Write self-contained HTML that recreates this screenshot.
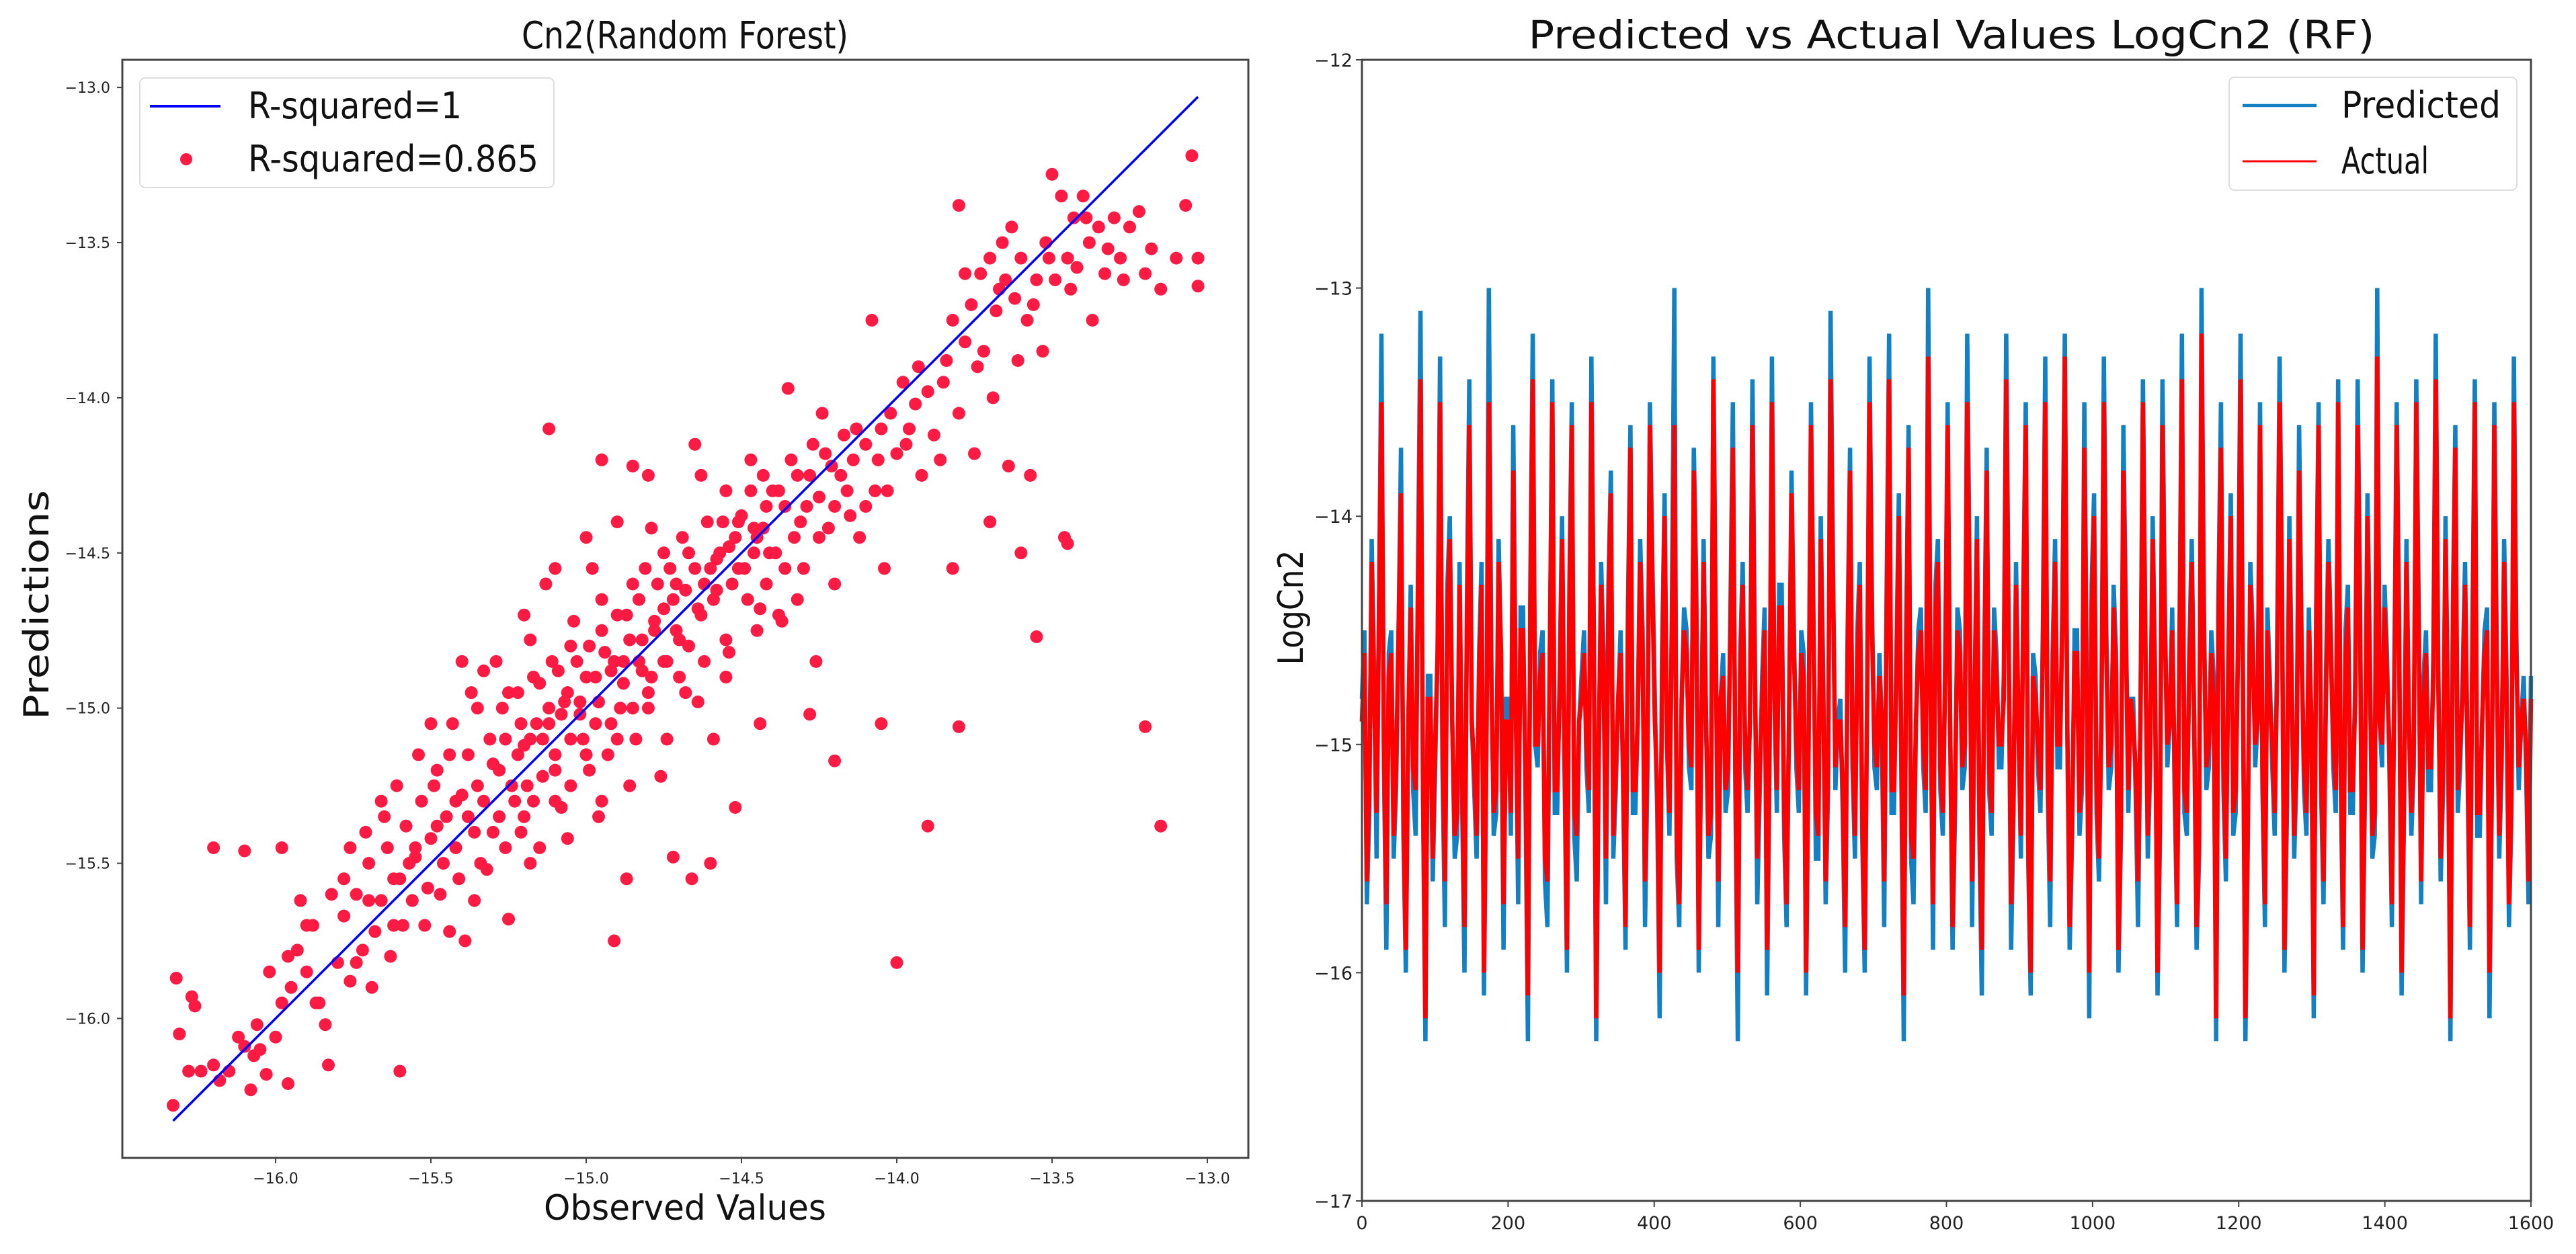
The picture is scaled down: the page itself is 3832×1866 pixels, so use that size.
<!DOCTYPE html>
<html><head><meta charset="utf-8"><style>
html,body{margin:0;padding:0;background:#fff;}
svg{display:block;font-family:"DejaVu Sans","Liberation Sans",sans-serif;}
</style></head><body>
<svg id="fig" width="3832" height="1866" viewBox="0 0 3832 1866" xmlns="http://www.w3.org/2000/svg">
<rect width="3832" height="1866" fill="#fff"/>
<g id="left"></g>
<g id="right"></g>
<text x="1019" y="72" font-size="56" text-anchor="middle" textLength="486" lengthAdjust="spacingAndGlyphs" fill="#111">Cn2(Random Forest)</text>
<text x="1019" y="1815" font-size="52" text-anchor="middle" textLength="420" lengthAdjust="spacingAndGlyphs" fill="#111">Observed Values</text>
<text x="0" y="0" font-size="52" text-anchor="middle" textLength="342" lengthAdjust="spacingAndGlyphs" fill="#111" transform="translate(72,900) rotate(-90)">Predictions</text>
<text x="2903" y="72" font-size="58" text-anchor="middle" textLength="1259" lengthAdjust="spacingAndGlyphs" fill="#111">Predicted vs Actual Values LogCn2 (RF)</text>
<text x="0" y="0" font-size="52" text-anchor="middle" textLength="171" lengthAdjust="spacingAndGlyphs" fill="#111" transform="translate(1938,904) rotate(-90)">LogCn2</text>
</svg>
<script>
const scatterPoints = [[-16.33,-16.28],[-16.32,-15.87],[-16.31,-16.05],[-16.28,-16.17],[-16.27,-15.93],[-16.26,-15.96],[-16.24,-16.17],[-16.2,-16.15],[-16.18,-16.2],[-16.15,-16.17],[-16.12,-16.06],[-16.1,-16.09],[-16.08,-16.23],[-16.07,-16.12],[-16.05,-16.1],[-16.03,-16.18],[-16.0,-16.06],[-15.98,-15.95],[-15.96,-16.21],[-15.95,-15.9],[-15.93,-15.78],[-15.9,-15.85],[-15.88,-15.7],[-15.86,-15.95],[-15.84,-16.02],[-15.83,-16.15],[-15.8,-15.82],[-15.78,-15.67],[-15.76,-15.88],[-15.74,-15.6],[-15.72,-15.78],[-15.7,-15.5],[-15.68,-15.72],[-15.66,-15.62],[-15.64,-15.45],[-15.62,-15.7],[-15.6,-15.55],[-15.58,-15.38],[-15.56,-15.62],[-15.55,-15.48],[-15.53,-15.3],[-15.51,-15.58],[-15.5,-15.42],[-15.48,-15.2],[-15.46,-15.5],[-15.45,-15.35],[-15.43,-15.05],[-15.42,-15.45],[-15.4,-15.28],[-15.39,-15.75],[-15.38,-15.15],[-15.36,-15.4],[-15.35,-15.0],[-15.33,-15.3],[-15.32,-15.52],[-15.3,-15.18],[-15.29,-14.85],[-15.28,-15.35],[-15.26,-15.1],[-15.25,-15.68],[-15.24,-15.25],[-15.22,-14.95],[-15.21,-15.4],[-15.2,-15.12],[-15.18,-14.78],[-15.17,-15.3],[-15.16,-15.05],[-15.14,-15.22],[-15.13,-14.6],[-15.12,-15.0],[-15.1,-15.15],[-15.09,-14.88],[-15.08,-15.32],[-15.06,-14.95],[-15.05,-15.1],[-15.04,-14.72],[-15.02,-15.02],[-15.0,-14.9],[-14.99,-15.2],[-14.98,-14.55],[-14.96,-14.98],[-14.95,-15.3],[-14.94,-14.82],[-14.92,-15.05],[-14.91,-15.75],[-14.9,-14.7],[-14.88,-14.92],[-14.87,-15.55],[-14.86,-14.78],[-14.84,-15.1],[-14.83,-14.65],[-14.82,-14.88],[-14.8,-15.0],[-14.79,-14.42],[-14.78,-14.75],[-14.76,-15.22],[-14.75,-14.68],[-14.74,-14.85],[-14.72,-15.48],[-14.71,-14.6],[-14.7,-14.78],[-14.68,-14.95],[-14.67,-14.5],[-14.66,-15.55],[-14.64,-14.68],[-14.63,-14.25],[-14.62,-14.85],[-14.6,-14.55],[-14.59,-15.1],[-14.58,-14.62],[-14.56,-14.4],[-14.55,-14.78],[-14.54,-14.48],[-14.52,-15.32],[-14.51,-14.55],[-14.5,-14.38],[-14.48,-14.65],[-14.47,-14.2],[-14.46,-14.5],[-14.44,-15.05],[-14.43,-14.42],[-14.42,-14.6],[-14.4,-14.3],[-14.39,-14.5],[-14.37,-14.72],[-14.36,-14.35],[-14.35,-13.97],[-14.33,-14.45],[-14.32,-14.25],[-14.3,-14.55],[-14.29,-14.35],[-14.27,-14.15],[-14.26,-14.85],[-14.25,-14.32],[-14.24,-14.05],[-14.22,-14.42],[-14.21,-14.22],[-14.2,-14.6],[-14.18,-14.25],[-14.17,-14.12],[-14.15,-14.38],[-14.14,-14.2],[-14.12,-14.45],[-14.1,-14.15],[-14.08,-13.75],[-14.07,-14.3],[-14.05,-14.1],[-14.04,-14.55],[-14.02,-14.05],[-14.0,-14.18],[-13.98,-13.95],[-13.96,-14.1],[-13.94,-14.02],[-13.92,-14.25],[-13.9,-13.98],[-13.88,-14.12],[-13.86,-14.2],[-13.84,-13.88],[-13.82,-13.75],[-13.8,-14.05],[-13.8,-13.38],[-13.78,-13.82],[-13.76,-13.7],[-13.75,-14.18],[-13.73,-13.6],[-13.72,-13.85],[-13.7,-13.55],[-13.69,-14.0],[-13.68,-13.72],[-13.66,-13.5],[-13.65,-13.62],[-13.64,-14.22],[-13.62,-13.68],[-13.61,-13.88],[-13.6,-13.55],[-13.58,-13.75],[-13.57,-14.25],[-13.55,-13.62],[-13.53,-13.85],[-13.52,-13.5],[-13.5,-13.28],[-13.49,-13.62],[-13.47,-13.35],[-13.46,-14.45],[-13.45,-13.55],[-13.43,-13.42],[-13.42,-13.58],[-13.4,-13.35],[-13.38,-13.5],[-13.37,-13.75],[-13.35,-13.45],[-13.33,-13.6],[-13.3,-13.42],[-13.28,-13.55],[-13.25,-13.45],[-13.22,-13.4],[-13.2,-13.6],[-13.2,-15.06],[-13.18,-13.52],[-13.15,-15.38],[-13.15,-13.65],[-13.1,-13.55],[-13.07,-13.38],[-13.05,-13.22],[-13.03,-13.55],[-13.03,-13.64],
[-16.2,-15.45],[-16.1,-15.46],[-15.98,-15.45],[-15.6,-16.17],[-13.9,-15.38],[-14.0,-15.82],[-13.55,-14.77],[-13.8,-15.06],[-14.05,-15.05],[-14.2,-15.17],[-15.12,-14.1],[-14.95,-14.2],[-14.85,-14.22],[-13.7,-14.4],[-13.6,-14.5],[-13.45,-14.47],[-14.28,-15.02],[-14.6,-15.5],[-13.82,-14.55],
[-15.28,-15.2],[-15.22,-15.15],[-15.18,-15.1],[-15.12,-15.05],[-15.08,-15.02],[-15.02,-14.98],[-14.97,-14.9],[-14.92,-14.88],[-14.88,-14.85],[-14.82,-14.78],[-14.78,-14.72],[-14.72,-14.65],[-14.68,-14.62],[-14.62,-14.6],[-14.58,-14.52],[-14.52,-14.45],[-14.46,-14.42],[-14.42,-14.35],[-15.35,-15.25],[-15.42,-15.3],[-15.48,-15.38],[-15.55,-15.45],[-15.62,-15.55],[-15.7,-15.62],[-15.25,-14.95],[-15.15,-14.92],[-15.05,-14.8],[-14.95,-14.75],[-14.85,-14.6],[-14.75,-14.5],[-15.2,-15.35],[-15.1,-15.3],[-15.0,-15.15],[-14.9,-15.1],[-14.8,-14.95],[-14.7,-14.9],
[-15.78,-15.55],[-15.74,-15.82],[-15.71,-15.4],[-15.69,-15.9],[-15.65,-15.35],[-15.63,-15.8],[-15.61,-15.25],[-15.59,-15.7],[-15.57,-15.5],[-15.54,-15.15],[-15.52,-15.7],[-15.49,-15.25],[-15.47,-15.6],[-15.44,-15.15],[-15.41,-15.55],[-15.38,-15.35],[-15.37,-14.95],[-15.34,-15.5],[-15.31,-15.1],[-15.3,-15.4],[-15.27,-15.0],[-15.26,-15.45],[-15.23,-15.3],[-15.21,-15.05],[-15.19,-15.25],[-15.17,-14.9],[-15.15,-15.45],[-15.14,-15.1],[-15.11,-14.85],[-15.1,-15.2],[-15.07,-14.98],[-15.05,-15.25],[-15.03,-14.85],[-15.01,-15.1],[-14.99,-14.8],[-14.97,-15.05],[-14.95,-14.65],[-14.93,-15.15],[-14.91,-14.85],[-14.89,-15.0],[-14.87,-14.7],[-14.85,-15.0],[-14.83,-14.85],[-14.81,-14.55],[-14.79,-14.9],[-14.77,-14.6],[-14.75,-14.85],[-14.73,-14.55],[-14.71,-14.75],[-14.69,-14.45],[-14.67,-14.8],[-14.65,-14.55],[-14.63,-14.7],[-14.61,-14.4],[-14.59,-14.65],[-14.57,-14.5],[-14.55,-14.3],[-14.53,-14.6],[-14.51,-14.4],[-14.49,-14.55],[-14.47,-14.3],[-14.45,-14.45],[-14.43,-14.25],[-14.41,-14.5],[-14.38,-14.3],[-14.36,-14.55],[-14.34,-14.2],[-14.31,-14.4],[-14.28,-14.25],[-14.25,-14.45],[-14.23,-14.18],[-14.2,-14.35],[-14.16,-14.3],[-14.13,-14.1],[-14.1,-14.35],[-14.06,-14.2],[-14.03,-14.3],[-13.97,-14.15],[-13.93,-13.9],[-13.85,-13.95],[-13.78,-13.6],[-13.74,-13.9],[-13.67,-13.65],[-13.63,-13.45],[-13.56,-13.7],[-13.51,-13.55],[-13.44,-13.65],[-13.39,-13.42],[-13.32,-13.52],[-13.27,-13.62],[-15.9,-15.7],[-15.87,-15.95],[-15.92,-15.62],[-15.96,-15.8],[-16.02,-15.85],[-16.06,-16.02],[-15.82,-15.6],[-15.76,-15.45],[-15.66,-15.3],[-15.5,-15.05],[-15.4,-14.85],[-15.33,-14.88],[-15.2,-14.7],[-15.1,-14.55],[-15.0,-14.45],[-14.9,-14.4],[-14.8,-14.25],[-14.65,-14.15],[-14.55,-14.9],[-14.45,-14.75],[-14.38,-14.7],[-14.32,-14.65],[-15.44,-15.72],[-15.36,-15.62],[-15.18,-15.5],[-15.06,-15.42],[-14.96,-15.35],[-14.86,-15.25],[-14.74,-15.1],[-14.64,-14.98],[-14.54,-14.82],[-14.44,-14.68]];
const perfectLine = [-16.33, -13.03];
const scatterXTicks = [-16.0,-15.5,-15.0,-14.5,-14.0,-13.5,-13.0];
const scatterYTicks = [-13.0,-13.5,-14.0,-14.5,-15.0,-15.5,-16.0];

const actualPeaks = [
-14.9,-15.6,-14.2,-15.3,-13.5,-15.7,-14.6,-15.1,-13.9,-15.9,-14.4,-15.2,-13.4,-16.2,-14.8,-15.0,-13.5,-15.6,-14.1,-15.4,
-14.3,-15.8,-13.6,-15.1,-14.7,-16.0,-13.5,-15.3,-14.2,-15.7,-14.9,-13.8,-15.5,-14.5,-16.1,-13.4,-15.0,-14.6,-15.6,-13.5,
-15.2,-14.1,-15.9,-13.6,-15.4,-14.8,-15.0,-13.5,-16.2,-14.3,-15.5,-13.9,-15.1,-14.6,-15.8,-13.7,-15.2,-14.2,-15.6,-13.6,
-14.9,-16.0,-14.0,-15.3,-13.6,-15.7,-14.5,-15.0,-13.8,-15.9,-14.2,-15.4,-13.4,-15.6,-14.7,-15.1,-13.7,-16.0,-14.3,-15.2,
-13.6,-15.5,-14.8,-15.9,-13.5,-15.2,-14.4,-15.7,-13.9,-15.0,-14.6,-16.0,-13.6,-15.3,-14.1,-15.6,-13.4,-15.1,-14.9,-15.8,
-13.8,-15.4,-14.3,-15.9,-13.5,-15.0,-14.7,-15.6,-13.4,-15.2,-14.0,-16.1,-13.7,-15.5,-14.6,-15.0,-13.3,-15.7,-14.2,-15.3,
-13.6,-15.8,-14.5,-15.1,-13.5,-15.6,-14.1,-15.9,-13.8,-15.3,-14.7,-15.0,-13.4,-15.7,-14.3,-15.4,-13.6,-16.0,-14.8,-15.2,
-13.5,-15.6,-14.2,-15.0,-13.3,-15.8,-14.6,-15.3,-13.7,-16.0,-14.0,-15.5,-13.5,-15.1,-14.4,-15.9,-13.8,-15.2,-14.9,-15.6,
-13.5,-15.4,-14.1,-16.0,-13.6,-15.0,-14.5,-15.7,-13.4,-15.3,-14.2,-15.8,-13.2,-15.1,-14.6,-16.2,-13.7,-15.5,-14.0,-15.2,
-13.4,-16.2,-14.3,-15.0,-13.6,-15.7,-14.8,-15.3,-13.5,-15.9,-14.1,-15.4,-13.8,-15.1,-14.5,-16.1,-13.6,-15.6,-14.2,-15.0,
-13.5,-15.8,-14.4,-15.2,-13.6,-15.9,-14.0,-15.4,-13.3,-15.0,-14.7,-15.7,-13.6,-16.0,-14.2,-15.3,-13.5,-15.6,-14.6,-15.1,
-13.4,-15.5,-14.1,-16.2,-13.7,-15.0,-14.3,-15.8,-13.5,-15.3,-14.6,-16.0,-13.6,-15.4,-14.2,-15.7,-13.5,-15.1,-14.8,-15.6];
const actualMids = [
-14.6,-15.2,-14.8,-14.4,-15.0,-14.7,-15.4,-14.5,-15.3,-14.9,-15.1,-14.3,-15.2,-14.8,-15.5,-14.6,-15.0,-14.4,-14.9,-15.3,
-15.1,-14.5,-14.9,-15.4,-14.3,-15.0,-14.7,-15.2,-14.6,-14.9,-15.3,-14.8,-14.5,-15.1,-14.4,-15.0,-14.7,-15.5,-14.6,-15.2,
-14.8,-15.0,-14.4,-15.3,-14.9,-14.6,-15.2,-14.5,-15.0,-14.7,-14.4,-15.4,-14.8,-15.1,-14.5,-15.2,-14.9,-14.6,-15.0,-14.3,
-15.2,-14.7,-15.0,-14.5,-15.4,-14.8,-14.6,-15.1,-14.4,-15.0,-14.9,-15.3,-14.6,-14.8,-15.2,-14.5,-15.1,-14.7,-15.0,-14.9,
-14.7,-15.1,-14.5,-15.0,-14.8,-14.4,-15.3,-14.9,-14.6,-15.2,-14.7,-15.0,-14.5,-15.4,-14.8,-15.1,-14.3,-14.9,-15.2,-14.6,
-15.0,-14.6,-15.3,-14.8,-14.5,-15.1,-14.9,-14.4,-15.2,-14.7,-15.0,-14.6,-15.4,-14.9,-14.5,-15.2,-14.8,-14.4,-15.1,-14.7,
-14.9,-15.2,-14.6,-15.0,-14.4,-14.8,-15.3,-14.7,-15.1,-14.5,-15.0,-14.8,-14.6,-15.2,-14.9,-14.4,-15.4,-14.7,-15.0,-14.6,
-15.1,-14.7,-15.0,-14.5,-14.9,-15.3,-14.6,-15.1,-14.8,-14.4,-15.2,-14.9,-14.6,-15.0,-14.7,-15.3,-14.5,-14.8,-15.1,-14.9,
-14.6,-15.0,-14.8,-15.3,-14.5,-14.9,-15.1,-14.6,-15.2,-14.7,-14.9,-15.4,-14.5,-15.0,-14.8,-14.4,-15.1,-14.7,-15.3,-14.6,
-14.8,-15.3,-14.6,-14.9,-15.1,-14.5,-15.0,-14.7,-14.4,-15.2,-14.8,-15.0,-14.6,-15.3,-14.9,-14.5,-15.1,-14.8,-14.6,-15.2,
-15.0,-14.6,-15.2,-14.8,-14.5,-15.1,-14.7,-15.3,-14.9,-14.4,-15.0,-14.8,-14.6,-15.2,-14.9,-15.0,-14.5,-14.8,-15.1,-14.7,
-14.7,-15.1,-14.9,-14.5,-15.2,-14.8,-15.0,-14.6,-15.3,-14.9,-14.5,-15.1,-14.7,-15.0,-14.8,-15.2,-14.6,-14.9,-15.0,-14.8];
const predictedPeaks = [
-14.8,-15.7,-14.1,-15.5,-13.2,-15.9,-14.5,-15.2,-13.7,-16.0,-14.3,-15.4,-13.1,-16.3,-14.7,-15.1,-13.3,-15.8,-14.0,-15.5,
-14.2,-16.0,-13.4,-15.2,-14.6,-16.1,-13.0,-15.4,-14.1,-15.9,-14.8,-13.6,-15.7,-14.4,-16.3,-13.2,-15.1,-14.5,-15.8,-13.4,
-15.3,-14.0,-16.0,-13.5,-15.6,-14.7,-15.1,-13.3,-16.3,-14.2,-15.7,-13.8,-15.2,-14.5,-15.9,-13.6,-15.3,-14.1,-15.8,-13.5,
-14.8,-16.2,-13.9,-15.4,-13.0,-15.8,-14.4,-15.1,-13.7,-16.0,-14.1,-15.5,-13.3,-15.8,-14.6,-15.2,-13.5,-16.3,-14.2,-15.3,
-13.4,-15.7,-14.7,-16.1,-13.3,-15.3,-14.3,-15.8,-13.8,-15.1,-14.5,-16.1,-13.5,-15.5,-14.0,-15.7,-13.1,-15.2,-14.8,-16.0,
-13.7,-15.5,-14.2,-16.0,-13.3,-15.1,-14.6,-15.8,-13.2,-15.3,-13.9,-16.3,-13.6,-15.7,-14.5,-15.1,-13.0,-15.9,-14.1,-15.4,
-13.5,-15.9,-14.4,-15.2,-13.2,-15.8,-14.0,-16.1,-13.7,-15.4,-14.6,-15.1,-13.2,-15.9,-14.2,-15.5,-13.5,-16.1,-14.7,-15.3,
-13.3,-15.8,-14.1,-15.1,-13.2,-15.9,-14.5,-15.4,-13.5,-16.2,-13.9,-15.6,-13.3,-15.2,-14.3,-16.0,-13.6,-15.3,-14.8,-15.8,
-13.4,-15.5,-14.0,-16.1,-13.4,-15.1,-14.4,-15.8,-13.2,-15.4,-14.1,-15.9,-13.0,-15.2,-14.5,-16.3,-13.5,-15.6,-13.9,-15.3,
-13.2,-16.3,-14.2,-15.1,-13.5,-15.8,-14.7,-15.4,-13.3,-16.0,-14.0,-15.5,-13.6,-15.2,-14.4,-16.2,-13.5,-15.7,-14.1,-15.1,
-13.4,-15.9,-14.3,-15.3,-13.4,-16.0,-13.9,-15.5,-13.0,-15.1,-14.6,-15.8,-13.5,-16.1,-14.1,-15.4,-13.4,-15.7,-14.5,-15.2,
-13.2,-15.6,-14.0,-16.3,-13.6,-15.1,-14.2,-15.9,-13.4,-15.4,-14.5,-16.2,-13.5,-15.5,-14.1,-15.8,-13.3,-15.2,-14.7,-15.7];
const predictedMids = [
-14.5,-15.3,-14.7,-14.4,-15.1,-14.6,-15.5,-14.5,-15.4,-14.9,-15.2,-14.2,-15.2,-14.7,-15.6,-14.6,-15.1,-14.3,-14.9,-15.4,
-15.2,-14.4,-14.9,-15.5,-14.2,-15.0,-14.6,-15.3,-14.6,-14.8,-15.4,-14.8,-14.4,-15.2,-14.3,-15.0,-14.6,-15.6,-14.6,-15.3,
-14.7,-15.1,-14.3,-15.4,-14.9,-14.5,-15.3,-14.5,-15.1,-14.6,-14.3,-15.5,-14.8,-15.2,-14.4,-15.3,-14.9,-14.5,-15.1,-14.2,
-15.3,-14.6,-15.0,-14.4,-15.5,-14.8,-14.5,-15.2,-14.3,-15.0,-14.9,-15.4,-14.5,-14.8,-15.3,-14.4,-15.2,-14.6,-15.1,-14.9,
-14.6,-15.2,-14.4,-15.1,-14.8,-14.3,-15.4,-14.9,-14.5,-15.3,-14.6,-15.0,-14.4,-15.5,-14.7,-15.2,-14.2,-14.9,-15.3,-14.5,
-15.1,-14.5,-15.4,-14.8,-14.4,-15.2,-14.9,-14.3,-15.3,-14.6,-15.1,-14.5,-15.5,-14.9,-14.4,-15.3,-14.7,-14.3,-15.2,-14.6,
-14.9,-15.3,-14.5,-15.1,-14.3,-14.8,-15.4,-14.6,-15.2,-14.4,-15.1,-14.7,-14.5,-15.3,-14.9,-14.3,-15.5,-14.6,-15.1,-14.5,
-15.2,-14.6,-15.1,-14.4,-14.9,-15.4,-14.5,-15.2,-14.7,-14.3,-15.3,-14.9,-14.5,-15.1,-14.6,-15.4,-14.4,-14.8,-15.2,-14.9,
-14.5,-15.1,-14.7,-15.4,-14.4,-14.9,-15.2,-14.5,-15.3,-14.6,-14.9,-15.5,-14.4,-15.1,-14.7,-14.3,-15.2,-14.6,-15.4,-14.5,
-14.7,-15.4,-14.5,-14.9,-15.2,-14.4,-15.1,-14.6,-14.3,-15.3,-14.7,-15.1,-14.5,-15.4,-14.9,-14.4,-15.2,-14.7,-14.5,-15.3,
-15.1,-14.5,-15.3,-14.7,-14.4,-15.2,-14.6,-15.4,-14.9,-14.3,-15.1,-14.7,-14.5,-15.3,-14.9,-15.1,-14.4,-14.7,-15.2,-14.6,
-14.6,-15.2,-14.9,-14.4,-15.3,-14.7,-15.1,-14.5,-15.4,-14.9,-14.4,-15.2,-14.6,-15.1,-14.7,-15.3,-14.5,-14.9,-15.1,-14.7];
const lineXTicks = [0,200,400,600,800,1000,1200,1400,1600];
const lineYTicks = [-12,-13,-14,-15,-16,-17];
const lineXMax = 1600;

const actualValues = actualPeaks.flatMap((v, i) => [v, actualMids[i]]);
const predictedValues = predictedPeaks.flatMap((v, i) => [v, predictedMids[i]]);

const NS = 'http://www.w3.org/2000/svg';
function mk(tag, attrs, parent){ const e=document.createElementNS(NS,tag); for(const k in attrs) e.setAttribute(k,attrs[k]); parent.appendChild(e); return e; }

// ---- left scatter ----
const L = document.getElementById('left');
const sx = v => 410 + (v + 16) * 462;
const sy = v => 1515.5 - (v + 16) * 461.8;
const dots = mk('g', {}, L);


scatterPoints.forEach(p => {
  const c = mk('circle', {cx: sx(p[0]).toFixed(1), cy: sy(p[1]).toFixed(1), r: 9.5, fill: '#fd1a43'}, dots);
  
  
});
const pl = mk('line', {x1: sx(perfectLine[0]), y1: sy(perfectLine[0]), x2: sx(perfectLine[1]), y2: sy(perfectLine[1]), stroke: '#0000ff', 'stroke-width': 3.5}, L);


const lframe = mk('rect', {x: 182, y: 89, width: 1675, height: 1634, fill: 'none', stroke: '#444', 'stroke-width': 3}, L);


scatterXTicks.forEach(t => {
  const x = sx(t);
  mk('line', {x1: x, y1: 1723, x2: x, y2: 1731, stroke: '#444', 'stroke-width': 2}, L);
  const tx = mk('text', {x: x, y: 1761, 'font-size': 22, 'text-anchor': 'middle', fill: '#222'}, L);
  tx.textContent = '\u2212' + Math.abs(t).toFixed(1);
  
  
});
scatterYTicks.forEach(t => {
  const y = sy(t);
  mk('line', {x1: 174, y1: y, x2: 182, y2: y, stroke: '#444', 'stroke-width': 2}, L);
  const tx = mk('text', {x: 164, y: y + 8, 'font-size': 22, 'text-anchor': 'end', fill: '#222'}, L);
  tx.textContent = '\u2212' + Math.abs(t).toFixed(1);
  
  
});
const lleg = mk('g', {}, L);


mk('rect', {x: 208, y: 116, width: 616, height: 163, rx: 8, fill: '#fff', 'fill-opacity': 0.9, stroke: '#ddd', 'stroke-width': 2}, lleg);
mk('line', {x1: 223, y1: 158, x2: 328, y2: 158, stroke: '#0000ff', 'stroke-width': 4}, lleg);
mk('circle', {cx: 277, cy: 237, r: 9, fill: '#fd1a43'}, lleg);
const le1 = mk('text', {x: 369, y: 176, 'font-size': 54, textLength: 318, lengthAdjust: 'spacingAndGlyphs', fill: '#111'}, lleg);
le1.textContent = 'R-squared=1';


const le2 = mk('text', {x: 369, y: 255, 'font-size': 54, textLength: 432, lengthAdjust: 'spacingAndGlyphs', fill: '#111'}, lleg);
le2.textContent = 'R-squared=0.865';



// ---- right line chart ----
const R = document.getElementById('right');
const X0 = 2026, X1 = 3765, Y0 = 89, Y1 = 1787;
const lx = v => X0 + v / lineXMax * (X1 - X0);
const ly = v => Y0 + (-12 - v) / 5 * (Y1 - Y0);
function seriesPath(vals){
  const n = vals.length;
  return vals.map((v,i) => (i ? 'L' : 'M') + lx(i * lineXMax / (n - 1)).toFixed(1) + ' ' + ly(v).toFixed(1)).join('');
}
const pp = mk('path', {d: seriesPath(predictedValues), fill: 'none', stroke: '#1380c4', 'stroke-width': 6.5, 'stroke-linejoin': 'miter'}, R);


const ap = mk('path', {d: seriesPath(actualValues), fill: 'none', stroke: '#ff0000', 'stroke-width': 6.5, 'stroke-linejoin': 'miter'}, R);


const rframe = mk('rect', {x: X0, y: Y0, width: X1 - X0, height: Y1 - Y0, fill: 'none', stroke: '#444', 'stroke-width': 3}, R);


lineXTicks.forEach(t => {
  const x = lx(t);
  mk('line', {x1: x, y1: Y1, x2: x, y2: Y1 + 9, stroke: '#444', 'stroke-width': 2}, R);
  const tx = mk('text', {x: x, y: 1829, 'font-size': 27, 'text-anchor': 'middle', fill: '#222'}, R);
  tx.textContent = String(t);
  
  
});
lineYTicks.forEach(t => {
  const y = ly(t);
  mk('line', {x1: X0 - 9, y1: y, x2: X0, y2: y, stroke: '#444', 'stroke-width': 2}, R);
  const tx = mk('text', {x: X0 - 14, y: y + 10, 'font-size': 27, 'text-anchor': 'end', fill: '#222'}, R);
  tx.textContent = '\u2212' + Math.abs(t);
  
  
});
const rleg = mk('g', {}, R);


mk('rect', {x: 3316, y: 115, width: 428, height: 168, rx: 8, fill: '#fff', 'fill-opacity': 0.9, stroke: '#ddd', 'stroke-width': 2}, rleg);
mk('line', {x1: 3336, y1: 157, x2: 3446, y2: 157, stroke: '#1380c4', 'stroke-width': 4.5}, rleg);
mk('line', {x1: 3336, y1: 240, x2: 3446, y2: 240, stroke: '#ff0000', 'stroke-width': 3}, rleg);
const re1 = mk('text', {x: 3483, y: 175, 'font-size': 54, textLength: 237, lengthAdjust: 'spacingAndGlyphs', fill: '#111'}, rleg);
re1.textContent = 'Predicted';


const re2 = mk('text', {x: 3483, y: 258, 'font-size': 54, textLength: 130, lengthAdjust: 'spacingAndGlyphs', fill: '#111'}, rleg);
re2.textContent = 'Actual';


</script>
</body></html>
